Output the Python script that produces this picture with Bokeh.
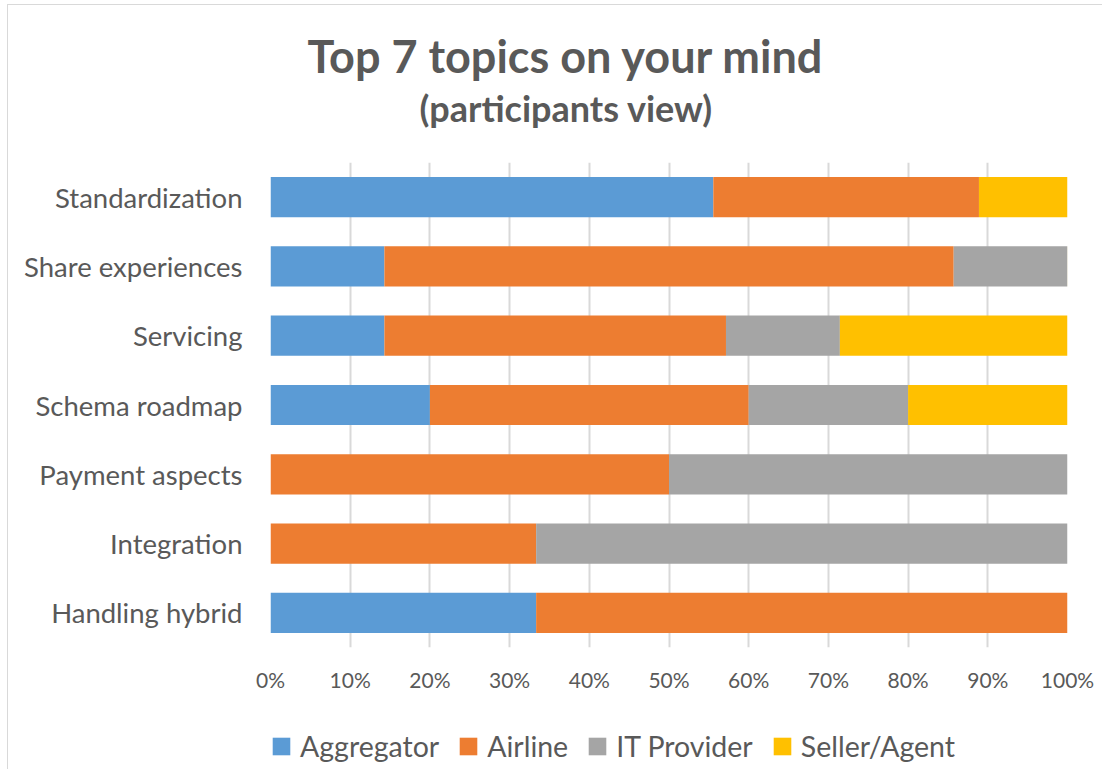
from bokeh.plotting import figure
from bokeh.layouts import column
from bokeh.models import (Range1d, FixedTicker, NumeralTickFormatter, Legend, LegendItem,
                          Title, ColumnDataSource, FactorRange)
from bokeh.embed import file_html
from bokeh.resources import INLINE

# ---- data ----
topics = ["Standardization", "Share experiences", "Servicing", "Schema roadmap",
          "Payment aspects", "Integration", "Handling hybrid"]
aggregator = [0.5556, 0.1429, 0.1429, 0.20, 0.0, 0.0, 0.3333]
airline = [0.3333, 0.7143, 0.4286, 0.40, 0.50, 0.3333, 0.6667]
it_provider = [0.0, 0.1429, 0.1429, 0.20, 0.50, 0.6667, 0.0]
seller_agent = [0.1111, 0.0, 0.2857, 0.20, 0.0, 0.0, 0.0]
series = ["Aggregator", "Airline", "IT Provider", "Seller/Agent"]
colors = ["#5B9BD5", "#ED7D31", "#A5A5A5", "#FFC000"]
x_ticks = [0, 0.1, 0.2, 0.3, 0.4, 0.5, 0.6, 0.7, 0.8, 0.9, 1.0]

TEXT = "#595959"
FONT = "Lato"

source = ColumnDataSource(dict(topic=topics, Aggregator=aggregator, Airline=airline,
                               **{"IT Provider": it_provider, "Seller/Agent": seller_agent}))

p = figure(y_range=FactorRange(factors=list(reversed(topics)), range_padding=0),
           x_range=Range1d(0, 1),
           frame_width=797, frame_height=485,
           min_border_left=262, min_border_right=35, min_border_top=157, min_border_bottom=45,
           output_backend="svg", toolbar_location=None)

renderers = p.hbar_stack(series, y="topic", height=0.58, color=colors, source=source,
                         line_color=None)

# titles (spacer, subtitle, main title stacked upward from the frame)
spacer = Title(text=" ", text_font_size="1px", standoff=30, text_color="white")
p.add_layout(spacer, "above")
sub = Title(text="(participants view)", align="left", offset=149, text_font=FONT,
            text_font_size="36px", text_font_style="bold", text_color=TEXT, standoff=0)
p.add_layout(sub, "above")
main = Title(text="Top 7 topics on your mind", align="left", offset=37, text_font=FONT,
             text_font_size="45px", text_font_style="bold", text_color=TEXT, standoff=1)
p.add_layout(main, "above")

# axes
p.xaxis.ticker = FixedTicker(ticks=x_ticks)
p.xaxis.formatter = NumeralTickFormatter(format="0%")
p.xaxis.axis_line_color = None
p.xaxis.major_tick_line_color = None
p.xaxis.minor_tick_line_color = None
p.xaxis.major_label_text_font = FONT
p.xaxis.major_label_text_font_size = "21px"
p.xaxis.major_label_text_color = TEXT
p.xaxis.major_label_standoff = 13

p.yaxis.axis_line_color = None
p.yaxis.major_tick_line_color = None
p.yaxis.minor_tick_line_color = None
p.yaxis.major_label_text_font = FONT
p.yaxis.major_label_text_font_size = "27.5px"
p.yaxis.major_label_text_color = TEXT
p.yaxis.major_label_standoff = 22

p.xgrid.grid_line_color = "#D9D9D9"
p.xgrid.grid_line_width = 2
p.ygrid.grid_line_color = None
p.outline_line_color = None

# ---- legend strip below the chart (same stacked series, zero-height, out of view) ----
lg = figure(width=1094, height=75, x_range=Range1d(2, 3),
            y_range=FactorRange(factors=list(reversed(topics))),
            min_border=0, output_backend="svg", toolbar_location=None)
lg.axis.visible = False
lg.grid.visible = False
lg.outline_line_color = None
swatches = lg.hbar_stack(series, y="topic", height=0.0, color=colors, source=source,
                         line_color=None)

legend = Legend(items=[LegendItem(label=s, renderers=[r]) for s, r in zip(series, swatches)],
                orientation="horizontal", location=(0, 6),
                glyph_width=22, glyph_height=22, label_standoff=8, spacing=18,
                padding=0, margin=0, border_line_color=None, background_fill_alpha=0,
                label_text_font=FONT, label_text_font_size="28.5px", label_text_color=TEXT)
lg.add_layout(legend, "center")

layout = column(p, lg, spacing=0,
                styles={"border-top": "1px solid #D9D9D9", "border-left": "1px solid #D9D9D9",
                        "margin-left": "7px", "margin-top": "4px"})

open("out.html", "w").write(file_html(layout, INLINE))
